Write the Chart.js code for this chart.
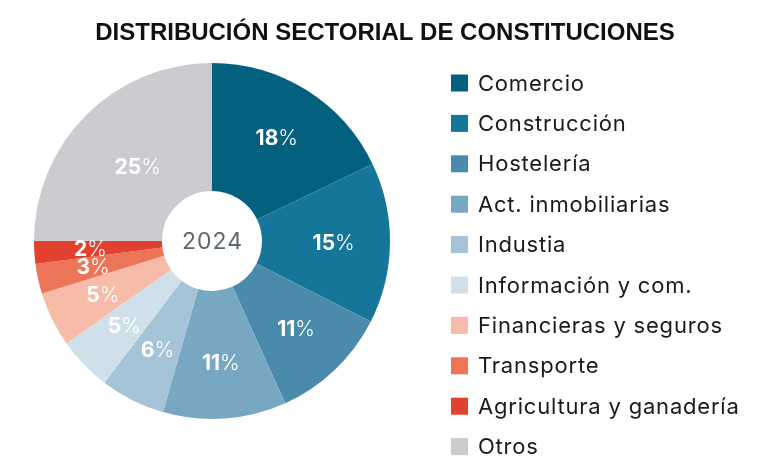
<!DOCTYPE html>
<html>
<head>
<meta charset="utf-8">
<script src="https://cdn.jsdelivr.net/npm/chart.js@4.4.0/dist/chart.umd.min.js"></script>
<style>
  html, body { margin: 0; padding: 0; background: #fff; }
  #wrap { width: 770px; height: 470px; }
</style>
</head>
<body>
<div id="wrap"><canvas id="sectores"></canvas></div>
<script>
// datos
const titulo = 'DISTRIBUCIÓN SECTORIAL DE CONSTITUCIONES';
const sectores = ['Comercio', 'Construcción', 'Hostelería', 'Act. inmobiliarias', 'Industia',
  'Información y com.', 'Financieras y seguros', 'Transporte', 'Agricultura y ganadería', 'Otros'];
const porcentajes = [17.9, 14.6, 10.8, 11.2, 5.9, 4.9, 5.0, 2.7, 2.1, 25];
const etiquetas = ['18', '15', '11', '11', '6', '5', '5', '3', '2', '25'];
const anio = '2024';

const colores = ['#03607f', '#16769a', '#4a8aab', '#77a7c2', '#a5c4d8',
  '#cfe0eb', '#f6bca7', '#ec7458', '#e2412f', '#cbccd0'];

const FONT = 'Inter';

// titulo centrado sobre todo el ancho
const tituloPlugin = {
  id: 'titulo',
  afterDraw(chart) {
    const ctx = chart.ctx;
    ctx.save();
    ctx.fillStyle = '#111111';
    ctx.font = 'bold 24px "Liberation Sans"';
    ctx.textAlign = 'center';
    ctx.textBaseline = 'alphabetic';
    ctx.fillText(titulo, chart.width / 2, 39.5);
    ctx.restore();
  }
};

// porcentajes sobre cada sector: número en negrita, % normal
const etiquetasPlugin = {
  id: 'etiquetas',
  afterDatasetsDraw(chart) {
    const ctx = chart.ctx;
    const meta = chart.getDatasetMeta(0);
    ctx.save();
    ctx.fillStyle = '#ffffff';
    ctx.textBaseline = 'middle';
    ctx.textAlign = 'left';
    meta.data.forEach((arc, i) => {
      const p = arc.getProps(['x', 'y', 'startAngle', 'endAngle', 'innerRadius', 'outerRadius'], true);
      const mid = (p.startAngle + p.endAngle) / 2;
      const r = p.innerRadius + (p.outerRadius - p.innerRadius) * (i === 9 ? 0.43 : 0.56);
      const cx = p.x + Math.cos(mid) * r;
      const cy = p.y + Math.sin(mid) * r;
      ctx.font = 'bold 21px ' + FONT;
      const w1 = ctx.measureText(etiquetas[i]).width;
      ctx.font = '300 21px ' + FONT;
      const w2 = ctx.measureText('%').width;
      const x0 = cx - (w1 + w2) / 2;
      ctx.font = 'bold 21px ' + FONT;
      ctx.fillText(etiquetas[i], x0, cy + 1);
      ctx.font = '300 21px ' + FONT;
      ctx.fillText('%', x0 + w1, cy + 1);
    });
    // año en el centro
    const a = meta.data[0];
    ctx.fillStyle = '#5b6670';
    ctx.font = '23px ' + FONT;
    ctx.letterSpacing = '1px';
    ctx.textAlign = 'center';
    ctx.fillText(anio, a.x + 0.5, a.y + 1);
    ctx.restore();
  }
};

// leyenda a la derecha
const leyendaPlugin = {
  id: 'leyenda',
  afterDraw(chart) {
    const ctx = chart.ctx;
    ctx.save();
    ctx.textBaseline = 'middle';
    ctx.textAlign = 'left';
    ctx.font = '22px ' + FONT;
    ctx.letterSpacing = '0.8px';
    sectores.forEach((s, i) => {
      const y = 83 + i * 40.4;
      ctx.fillStyle = colores[i];
      ctx.fillRect(451, y - 8.5, 17, 17);
      ctx.fillStyle = '#1a1a1a';
      ctx.fillText(s, 478, y + 1);
    });
    ctx.restore();
  }
};

new Chart(document.getElementById('sectores'), {
  type: 'doughnut',
  data: {
    labels: sectores,
    datasets: [{
      data: porcentajes,
      backgroundColor: colores,
      borderWidth: 0
    }]
  },
  options: {
    responsive: true,
    maintainAspectRatio: false,
    animation: false,
    cutout: 50,
    layout: { padding: { left: 0, right: 346, top: 63, bottom: 51 } },
    plugins: {
      legend: { display: false },
      tooltip: { enabled: false },
      title: { display: false }
    }
  },
  plugins: [tituloPlugin, etiquetasPlugin, leyendaPlugin]
});
</script>
</body>
</html>
